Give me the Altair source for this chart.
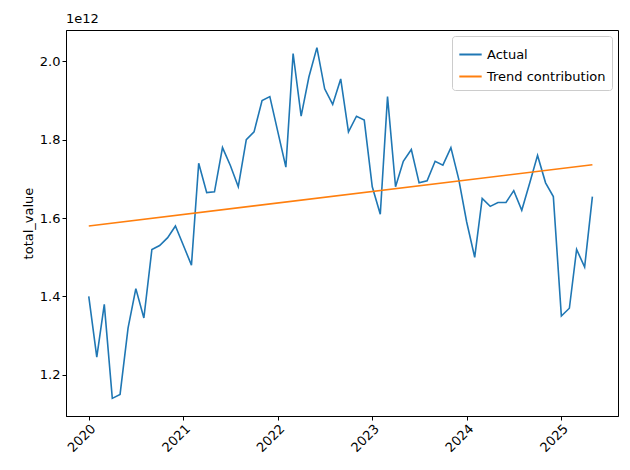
import altair as alt
import pandas as pd

months = pd.date_range("2020-01-01", periods=65, freq="MS").strftime("%Y-%m-%d").tolist()
actual = [
    1.40, 1.245, 1.38, 1.14, 1.15, 1.32, 1.42, 1.345, 1.52, 1.53, 1.55, 1.58,
    1.53, 1.48, 1.74, 1.665, 1.667, 1.78, 1.735, 1.68, 1.80, 1.82, 1.90, 1.91,
    1.82, 1.73, 2.02, 1.86, 1.96, 2.035, 1.93, 1.89, 1.955, 1.82, 1.86, 1.85,
    1.68, 1.61, 1.91, 1.68, 1.745, 1.775, 1.69, 1.695, 1.745, 1.735, 1.78, 1.70,
    1.59, 1.50, 1.65, 1.63, 1.64, 1.64, 1.67, 1.62, 1.69, 1.76, 1.69, 1.655,
    1.35, 1.37, 1.52, 1.475, 1.655,
]
trend_months = [months[0], months[-1]]
trend = [1.58, 1.736]

df = pd.concat([
    pd.DataFrame({"Month": months, "value": actual, "series": "Actual"}),
    pd.DataFrame({"Month": trend_months, "value": trend, "series": "Trend contribution"}),
])

x_dom = [pd.Timestamp("2019-10-05").isoformat(), pd.Timestamp("2025-08-08").isoformat()]

lines = alt.Chart(df).mark_line(strokeWidth=1.6, clip=True).encode(
    x=alt.X("Month:T", title="Month", scale=alt.Scale(domain=x_dom),
            axis=alt.Axis(format="%Y", tickCount={"interval": "year", "step": 1}, labelAngle=315,
                          titlePadding=2)),
    y=alt.Y("value:Q", title="total_value", scale=alt.Scale(domain=[1.095, 2.08], nice=False, zero=False),
            axis=alt.Axis(values=[1.2, 1.4, 1.6, 1.8, 2.0], format=".1f")),
    color=alt.Color("series:N", title=None,
                    scale=alt.Scale(domain=["Actual", "Trend contribution"], range=["#1f77b4", "#ff7f0e"]),
                    legend=alt.Legend(orient="top-right", symbolType="stroke", symbolSize=500,
                                      symbolStrokeWidth=2, labelFontSize=13, padding=6,
                                      strokeColor="#cccccc", fillColor="white", cornerRadius=3,
                                      offset=6)),
)

exp = alt.Chart(pd.DataFrame({"t": ["1e12"]})).mark_text(
    align="left", baseline="bottom", fontSize=13, font="DejaVu Sans", dy=-4
).encode(x=alt.value(0), y=alt.value(0), text="t:N")

chart = (lines + exp).properties(
    width=552, height=386,
    title=alt.Title("Trend contribution vs Actual", fontSize=16, fontWeight="normal", font="DejaVu Sans", offset=6),
    autosize=alt.AutoSizeParams(type="none"),
    padding={"left": 58, "top": 22, "right": 4, "bottom": 40},
).configure_view(stroke="black", strokeWidth=1).configure_axis(
    grid=False, domainColor="black", tickColor="black", tickSize=4, labelFontSize=13,
    titleFontSize=13, titleFontWeight="normal", labelFont="DejaVu Sans", titleFont="DejaVu Sans",
    labelColor="black", titleColor="black",
).configure_legend(labelFont="DejaVu Sans")

chart.save("out.html", embed_options={"renderer": "svg", "actions": False})
